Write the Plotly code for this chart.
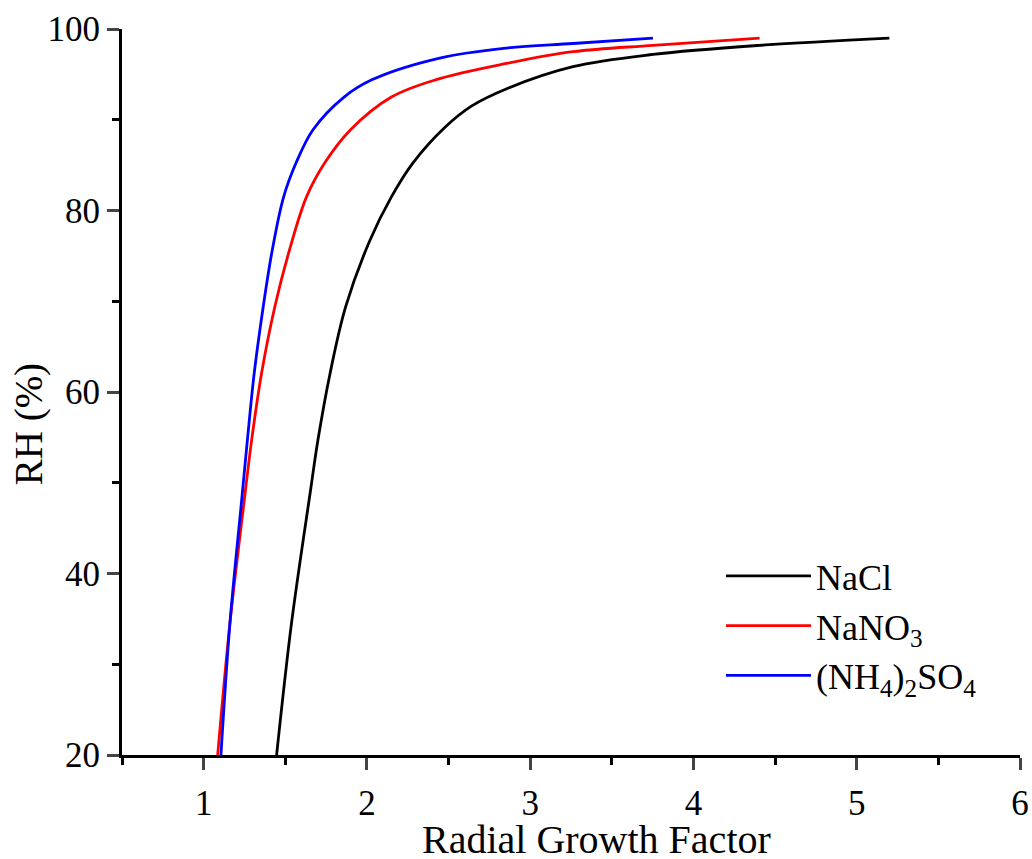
import plotly.graph_objects as go

# NaCl
nacl_rh = [20, 34.5, 49.2, 54.7, 62.1, 69.4, 76.7, 81.5, 85.2, 89.2, 91.5, 93.45, 95.85, 97.2, 98.2, 99.0]
nacl_gf = [1.447, 1.538, 1.655, 1.70, 1.775, 1.87, 2.018, 2.15, 2.28, 2.48, 2.64, 2.86, 3.262, 3.752, 4.405, 5.2]

# NaNO3
nano3_rh = [20, 34.5, 48.1, 54.7, 62.1, 69.4, 75.6, 81.5, 85.2, 88.9, 92.5, 94.4, 96.2, 97.5, 98.2, 99.0]
nano3_gf = [1.086, 1.161, 1.249, 1.294, 1.355, 1.436, 1.525, 1.63, 1.74, 1.90, 2.15, 2.42, 2.854, 3.262, 3.752, 4.405]

# (NH4)2SO4
as_rh = [20, 34.5, 48.1, 54.7, 62.1, 69.4, 75.6, 81.5, 85.2, 88.9, 92.5, 94.4, 96.8, 97.9, 98.4, 99.0]
as_gf = [1.106, 1.161, 1.233, 1.268, 1.31, 1.365, 1.42, 1.49, 1.565, 1.67, 1.86, 2.03, 2.446, 2.854, 3.262, 3.752]

x_ticks = [1, 2, 3, 4, 5, 6]
x_minor = [0.5, 1.5, 2.5, 3.5, 4.5, 5.5]
y_ticks = [20, 40, 60, 80, 100]
y_minor = [30, 50, 70, 90]

x_title = "Radial Growth Factor"
y_title = "RH (%)"

FONT = "Liberation Serif"
LW = 2.8

fig = go.Figure()
fig.add_trace(go.Scatter(x=nacl_gf, y=nacl_rh, mode="lines", name="NaCl",
                         line=dict(color="black", width=LW, shape="spline", smoothing=1.0)))
fig.add_trace(go.Scatter(x=nano3_gf, y=nano3_rh, mode="lines", name="NaNO<sub>3</sub>",
                         line=dict(color="#ff0000", width=LW, shape="spline", smoothing=1.0)))
fig.add_trace(go.Scatter(x=as_gf, y=as_rh, mode="lines", name="(NH<sub>4</sub>)<sub>2</sub>SO<sub>4</sub>",
                         line=dict(color="#0000ff", width=LW, shape="spline", smoothing=1.0)))

fig.update_layout(
    width=1032, height=859,
    margin=dict(l=122, r=12, t=29, b=104),
    paper_bgcolor="white", plot_bgcolor="white",
    font=dict(family=FONT, size=35, color="black"),
    legend=dict(x=0.667, y=0.288, xanchor="left", yanchor="top",
                bgcolor="rgba(0,0,0,0)", font=dict(family=FONT, size=36),
                itemwidth=85, tracegroupgap=0),
    showlegend=True,
    annotations=[
        dict(text=x_title, xref="paper", yref="paper", x=0.528, y=-0.116,
             xanchor="center", yanchor="middle", showarrow=False,
             font=dict(family=FONT, size=40, color="black")),
        dict(text=y_title, xref="paper", yref="paper", x=-0.104, y=0.455,
             xanchor="center", yanchor="middle", showarrow=False, textangle=-90,
             font=dict(family=FONT, size=39, color="black")),
    ],
)
fig.update_xaxes(
    range=[0.5, 6], tickvals=x_ticks, ticks="outside", ticklen=12, tickwidth=3,
    showline=True, linecolor="black", linewidth=3, showgrid=False, zeroline=False,
    automargin=False, ticklabelstandoff=3,
    tickfont=dict(family=FONT, size=35),
    minor=dict(tickvals=x_minor, ticks="outside", ticklen=7, tickwidth=3, tickcolor="black"),
)
fig.update_yaxes(
    range=[20, 100], tickvals=y_ticks, ticks="outside", ticklen=12, tickwidth=3,
    showline=True, linecolor="black", linewidth=3, showgrid=False, zeroline=False,
    automargin=False,
    tickfont=dict(family=FONT, size=35),
    minor=dict(tickvals=y_minor, ticks="outside", ticklen=7, tickwidth=3, tickcolor="black"),
)

fig.write_html("out.html", config={"displayModeBar": False},
               post_script="document.body.style.margin='0';")
